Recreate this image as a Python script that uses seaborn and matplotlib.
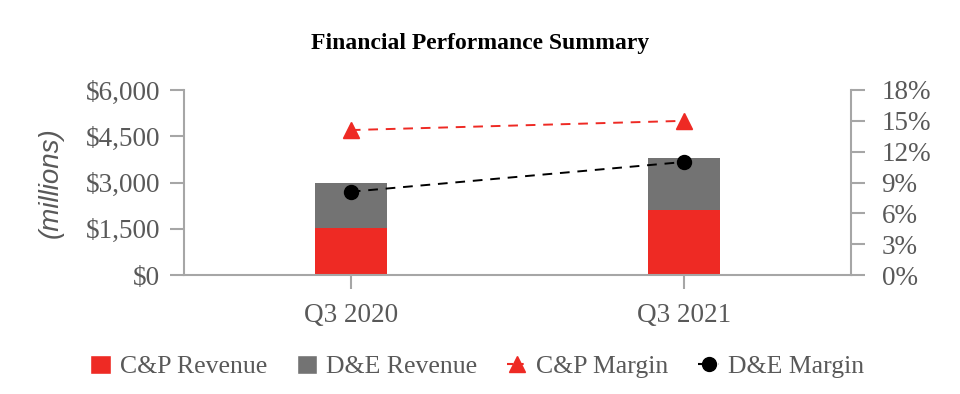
import numpy as np
import pandas as pd
import matplotlib
matplotlib.use("Agg")
import matplotlib.pyplot as plt
import matplotlib.ticker as ticker
from matplotlib.patches import Patch
from matplotlib.lines import Line2D
import seaborn as sns

quarters = ["Q3 2020", "Q3 2021"]
cp_revenue = [1530, 2110]
de_revenue = [1440, 1690]
cp_margin = [14.1, 15.0]
de_margin = [8.1, 11.0]

red = "#EE2A24"
gray = "#737373"
axis_gray = "#A6A6A6"
text_gray = "#595959"

sns.set_style("white")
plt.rcParams['font.family'] = ['Liberation Serif', 'DejaVu Serif']

df = pd.DataFrame({"quarter": quarters, "cp": cp_revenue, "de": de_revenue,
                   "cpm": cp_margin, "dem": de_margin})
df["total"] = df["cp"] + df["de"]

fig = plt.figure(figsize=(9.6, 3.94), dpi=100)
ax = fig.add_axes([0.1917, 0.302, 0.6948, 0.4696])

sns.barplot(data=df, x="quarter", y="total", color=gray, width=0.216, ax=ax,
            saturation=1, linewidth=0)
sns.barplot(data=df, x="quarter", y="cp", color=red, width=0.216, ax=ax,
            saturation=1, linewidth=0)

ax.set_ylim(0, 6000)
ax.yaxis.set_major_locator(ticker.MultipleLocator(1500))
ax.yaxis.set_major_formatter(ticker.FuncFormatter(lambda v, p: "${:,.0f}".format(v)))
ax.set_xlabel("")
ax.set_ylabel("(millions)", family=['Liberation Sans'], style='italic',
              fontsize=20, color=text_gray, labelpad=16)

ax2 = ax.twinx()
sns.pointplot(data=df, x="quarter", y="cpm", color=red, markers="^",
              linestyles="--", ax=ax2, markersize=12, linewidth=1.4)
sns.pointplot(data=df, x="quarter", y="dem", color="black", markers="o",
              linestyles="--", ax=ax2, markersize=10, linewidth=1.4)
for l in ax2.lines:
    l.set_dashes([5, 4])
ax2.set_ylim(0, 18)
ax2.yaxis.set_major_locator(ticker.MultipleLocator(3))
ax2.yaxis.set_major_formatter(ticker.FuncFormatter(lambda v, p: "{:.0f}%".format(v)))
ax2.set_ylabel("")
ax2.set_xlabel("")
ax.set_xlim(-0.5, 1.5)
ax2.set_xlim(-0.5, 1.5)

for a in (ax, ax2):
    for s in a.spines.values():
        s.set_visible(False)
    a.grid(False)
ax.spines['left'].set_visible(True)
ax.spines['bottom'].set_visible(True)
ax2.spines['right'].set_visible(True)
for s in [ax.spines['left'], ax.spines['bottom'], ax2.spines['right']]:
    s.set_color(axis_gray)
    s.set_linewidth(1.5)

ax.tick_params(axis='y', left=True, length=10, width=1.5, color=axis_gray,
               labelsize=19.5, labelcolor=text_gray, pad=7)
ax.tick_params(axis='x', bottom=True, length=10, width=1.5, color=axis_gray,
               labelsize=19.5, labelcolor=text_gray, pad=10)
ax2.tick_params(axis='y', right=True, length=10, width=1.5, color=axis_gray,
                labelsize=19.5, labelcolor=text_gray, pad=12)

fig.suptitle("Financial Performance Summary", y=0.915, fontsize=17,
             fontweight='bold', color='black', x=0.5)

handles = [
    Patch(facecolor=red, label="C&P Revenue"),
    Patch(facecolor=gray, label="D&E Revenue"),
    Line2D([0], [0], color=red, linestyle="--", marker="^", markersize=11,
           dashes=[3, 2], label="C&P Margin"),
    Line2D([0], [0], color="black", linestyle="--", marker="o", markersize=10,
           dashes=[3, 2], label="D&E Margin"),
]
leg = fig.legend(handles=handles, loc="center", bbox_to_anchor=(0.497, 0.07),
                 ncol=4, frameon=False, fontsize=18.5, handlelength=0.8,
                 handleheight=0.8, columnspacing=1.15, handletextpad=0.35)
for t in leg.get_texts():
    t.set_color(text_gray)

fig.savefig("out.png", dpi=100)
